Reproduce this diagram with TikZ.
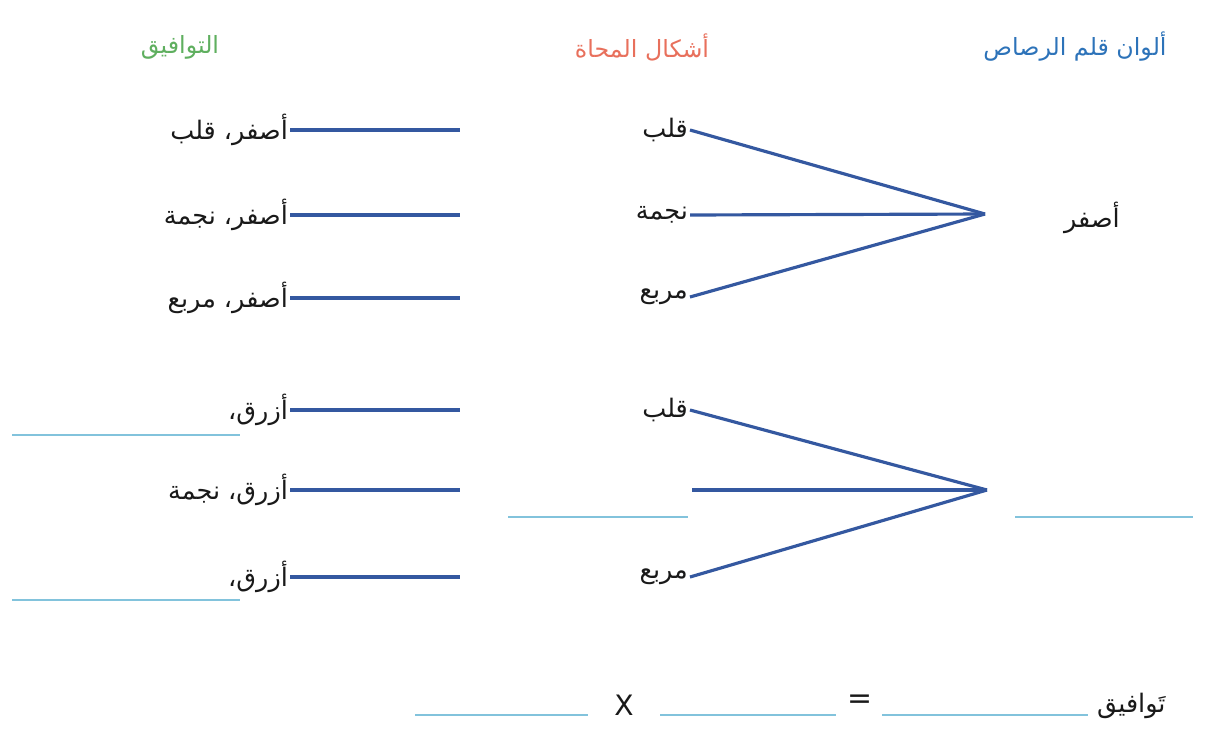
\documentclass[tikz,border=0pt]{standalone}
\usepackage{fontspec}
\setmainfont{DejaVu Sans}
\newfontfamily\arfont[Script=Arabic]{DejaVu Sans}
\TeXXeTstate=1
\definecolor{lineblue}{RGB}{52,88,160}
\definecolor{blankblue}{RGB}{130,195,220}
\definecolor{headblue}{RGB}{45,115,185}
\definecolor{headred}{RGB}{232,112,92}
\definecolor{headgreen}{RGB}{95,175,95}
\definecolor{txt}{RGB}{25,25,25}
\tikzset{
  artext/.style={font=\arfont\fontsize{14.5}{17}\selectfont, text=txt, inner sep=1pt},
  head/.style={font=\arfont\fontsize{13.5}{16}\selectfont, inner sep=1pt},
  link/.style={draw=lineblue, line width=1.8pt},
  blank/.style={draw=blankblue, line width=1.4pt},
}
\begin{document}
\begin{tikzpicture}[x=0.02cm,y=-0.02cm]
\useasboundingbox (0,0) rectangle (1206,751);
% headers
\node[head, text=headblue] (h1) at (1075,47) {\beginR ألوان قلم الرصاص\endR};
\node[head, text=headred] (h2) at (642,47) {\beginR أشكال المحاة\endR};
\node[head, text=headgreen] (h3) at (180,47) {\beginR التوافيق\endR};

% top group
\coordinate (t1) at (985,214);
\node[artext, anchor=east] (a1) at (690,130) {\beginR قلب\endR};
\node[artext, anchor=east] (a2) at (690,215) {\beginR نجمة\endR};
\node[artext, anchor=east] (a3) at (690,297) {\beginR مربع\endR};
\node[artext, anchor=west] (ya) at (1062,218) {\beginR أصفر\endR};
\draw[link] (a1.east) -- (t1);
\draw[link] (a2.east) -- (t1);
\draw[link] (a3.east) -- (t1);

% top left column
\node[artext, anchor=east] (c1) at (290,130) {\beginR أصفر، قلب\endR};
\node[artext, anchor=east] (c2) at (290,215) {\beginR أصفر، نجمة\endR};
\node[artext, anchor=east] (c3) at (290,298) {\beginR أصفر، مربع\endR};
\coordinate (e1) at (460,130);
\coordinate (e2) at (460,215);
\coordinate (e3) at (460,298);
\draw[link] (c1.east) -- (e1);
\draw[link] (c2.east) -- (e2);
\draw[link] (c3.east) -- (e3);

% bottom group
\coordinate (t2) at (987,490);
\node[artext, anchor=east] (b1) at (690,410) {\beginR قلب\endR};
\coordinate (b2) at (692,490);
\node[artext, anchor=east] (b3) at (690,577) {\beginR مربع\endR};
\draw[link] (b1.east) -- (t2);
\draw[link] (b2) -- (t2);
\draw[link] (b3.east) -- (t2);
\coordinate (s1) at (508,517);
\coordinate (s2) at (688,517);
\draw[blank] (s1) -- (s2);
\coordinate (s3) at (1015,517);
\coordinate (s4) at (1193,517);
\draw[blank] (s3) -- (s4);

% bottom left column
\node[artext, anchor=east] (d1) at (290,410) {\beginR أزرق،\endR};
\node[artext, anchor=east] (d2) at (290,490) {\beginR أزرق، نجمة\endR};
\node[artext, anchor=east] (d3) at (290,577) {\beginR أزرق،\endR};
\coordinate (f1) at (460,410);
\coordinate (f2) at (460,490);
\coordinate (f3) at (460,577);
\draw[link] (d1.east) -- (f1);
\draw[link] (d2.east) -- (f2);
\draw[link] (d3.east) -- (f3);
\coordinate (g1) at (12,435);
\coordinate (g2) at (240,435);
\draw[blank] (g1) -- (g2);
\coordinate (g3) at (12,600);
\coordinate (g4) at (240,600);
\draw[blank] (g3) -- (g4);

% equation
\node[artext, anchor=west] (tw) at (1095,706) {\beginR تَوافيق\endR};
\coordinate (k1) at (415,715); \coordinate (k2) at (588,715);
\coordinate (k3) at (660,715); \coordinate (k4) at (836,715);
\coordinate (k5) at (882,715); \coordinate (k6) at (1088,715);
\draw[blank] (k1) -- (k2);
\draw[blank] (k3) -- (k4);
\draw[blank] (k5) -- (k6);
\node[font=\fontsize{16}{18}\selectfont, text=txt, inner sep=0pt] (x) at (624,705) {X};
\node[font=\fontsize{17}{19}\selectfont, text=txt, inner sep=0pt] (eq) at (860,702) {=};
\end{tikzpicture}
\end{document}
